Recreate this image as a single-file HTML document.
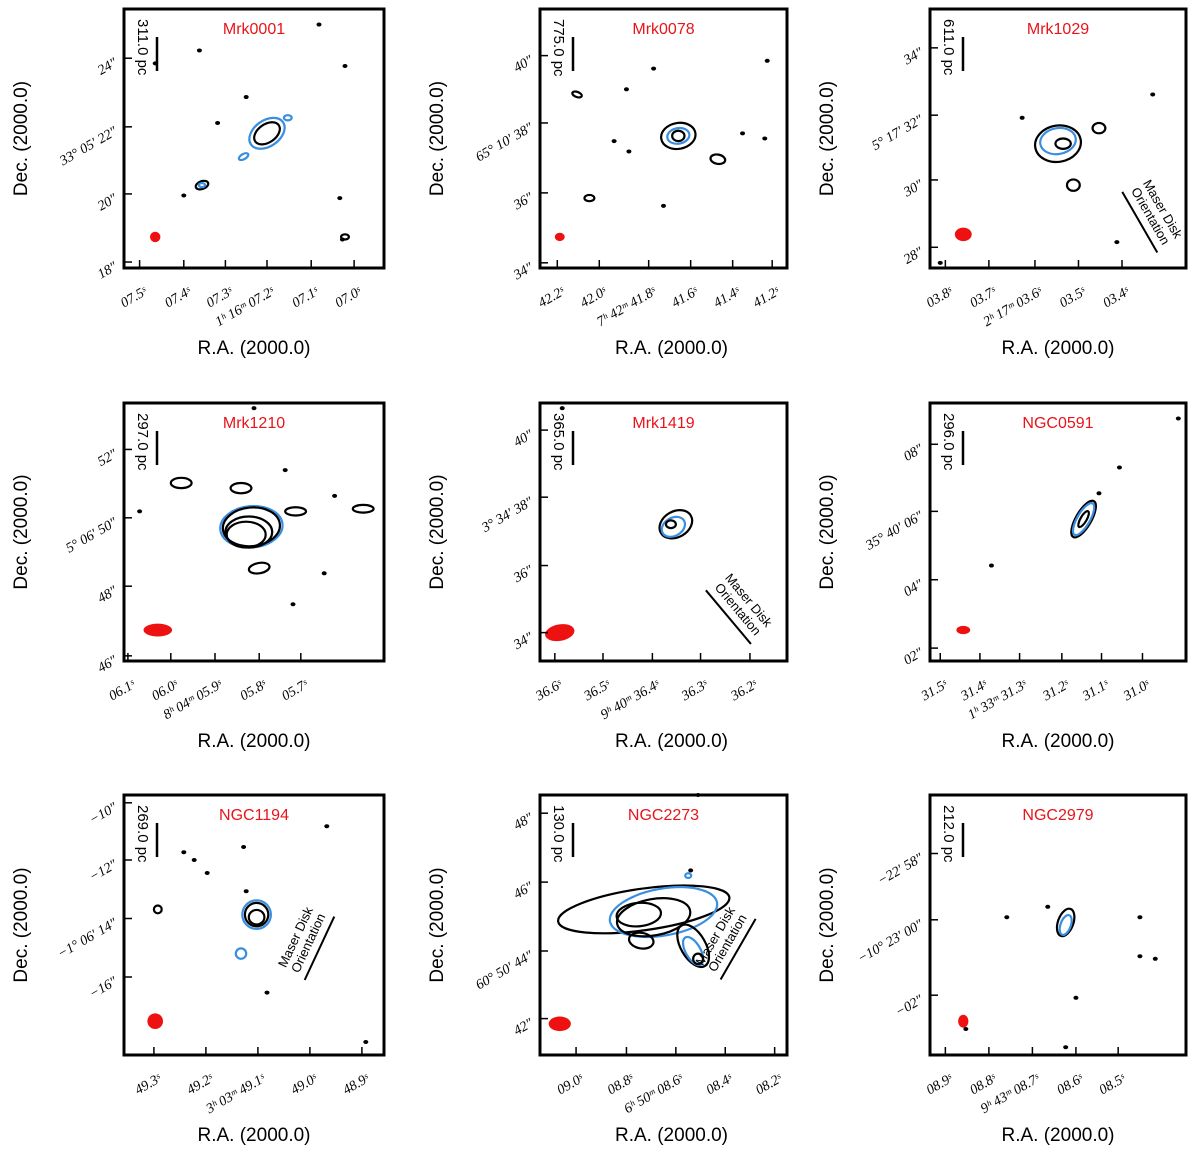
<!DOCTYPE html>
<html><head><meta charset="utf-8"><style>
body{margin:0;background:#fff;width:1200px;height:1150px;overflow:hidden}
svg text{font-family:"Liberation Sans",sans-serif}
.tk{font-family:"Liberation Serif",serif;font-style:italic;font-size:14px}
</style></head><body>
<svg id="fig" width="1200" height="1150" xmlns="http://www.w3.org/2000/svg"></svg>
<script>
const panelNames=["Mrk0001","Mrk0078","Mrk1029","Mrk1210","Mrk1419","NGC0591","NGC1194","NGC2273","NGC2979"];
const scaleLabels=["311.0 pc","775.0 pc","611.0 pc","297.0 pc","365.0 pc","296.0 pc","269.0 pc","130.0 pc","212.0 pc"];
const xTickLabels=[["07.5ˢ","07.4ˢ","07.3ˢ","1ʰ 16ᵐ 07.2ˢ","07.1ˢ","07.0ˢ"],["42.2ˢ","42.0ˢ","7ʰ 42ᵐ 41.8ˢ","41.6ˢ","41.4ˢ","41.2ˢ"],["03.8ˢ","03.7ˢ","2ʰ 17ᵐ 03.6ˢ","03.5ˢ","03.4ˢ"],["06.1ˢ","06.0ˢ","8ʰ 04ᵐ 05.9ˢ","05.8ˢ","05.7ˢ"],["36.6ˢ","36.5ˢ","9ʰ 40ᵐ 36.4ˢ","36.3ˢ","36.2ˢ"],["31.5ˢ","31.4ˢ","1ʰ 33ᵐ 31.3ˢ","31.2ˢ","31.1ˢ","31.0ˢ"],["49.3ˢ","49.2ˢ","3ʰ 03ᵐ 49.1ˢ","49.0ˢ","48.9ˢ"],["09.0ˢ","08.8ˢ","6ʰ 50ᵐ 08.6ˢ","08.4ˢ","08.2ˢ"],["08.9ˢ","08.8ˢ","9ʰ 43ᵐ 08.7ˢ","08.6ˢ","08.5ˢ"]];
const xTickFrac=[[0.06,0.23,0.39,0.55,0.72,0.885],[0.07,0.24,0.44,0.61,0.78,0.94],[0.06,0.23,0.41,0.58,0.75],[0.015,0.18,0.35,0.52,0.68],[0.06,0.255,0.455,0.65,0.85],[0.04,0.195,0.35,0.515,0.67,0.83],[0.115,0.315,0.515,0.715,0.915],[0.146,0.35,0.55,0.75,0.95],[0.06,0.23,0.40,0.57,0.735]];
const yTickLabels=[["24″","33° 05′ 22″","20″","18″"],["40″","65° 10′ 38″","36″","34″"],["34″","5° 17′ 32″","30″","28″"],["52″","5° 06′ 50″","48″","46″"],["40″","3° 34′ 38″","36″","34″"],["08″","35° 40′ 06″","04″","02″"],["−10″","−12″","−1° 06′ 14″","−16″"],["48″","46″","60° 50′ 44″","42″"],["−22′ 58″","−10° 23′ 00″","−02″"]];
const yTickFrac=[[0.19,0.455,0.714,0.977],[0.18,0.44,0.71,0.98],[0.15,0.41,0.66,0.92],[0.18,0.445,0.71,0.98],[0.105,0.365,0.63,0.89],[0.16,0.42,0.685,0.95],[0.03,0.25,0.475,0.7],[0.07,0.335,0.6,0.86],[0.225,0.48,0.77]];
const contours=[
 [[0.55,0.48,0.075,0.05,-35,"u"],[0.55,0.48,0.055,0.035,-35,"b"],[0.63,0.42,0.015,0.01,0,"u"],[0.3,0.68,0.025,0.015,-20,"b"],[0.3,0.68,0.012,0.008,0,"u"],[0.85,0.88,0.015,0.01,0,"b"],[0.46,0.57,0.02,0.01,-30,"u"]],
 [[0.56,0.49,0.07,0.05,-10,"b"],[0.56,0.49,0.045,0.03,-10,"u"],[0.56,0.49,0.025,0.02,0,"b"],[0.72,0.58,0.03,0.018,10,"b"],[0.15,0.33,0.02,0.01,20,"b"],[0.2,0.73,0.02,0.012,0,"b"]],
 [[0.5,0.52,0.09,0.07,-10,"b"],[0.5,0.51,0.07,0.05,-10,"u"],[0.52,0.52,0.03,0.02,0,"b"],[0.56,0.68,0.025,0.022,0,"b"],[0.66,0.46,0.025,0.02,0,"b"]],
 [[0.49,0.48,0.12,0.08,-5,"u"],[0.49,0.48,0.11,0.075,-5,"b"],[0.48,0.5,0.09,0.06,0,"b"],[0.47,0.51,0.075,0.05,0,"b"],[0.45,0.33,0.04,0.02,0,"b"],[0.22,0.31,0.04,0.02,0,"b"],[0.52,0.64,0.04,0.02,-10,"b"],[0.66,0.42,0.04,0.016,0,"b"],[0.92,0.41,0.04,0.015,0,"b"]],
 [[0.55,0.47,0.07,0.05,-30,"b"],[0.54,0.48,0.05,0.035,-30,"u"],[0.53,0.47,0.02,0.015,0,"b"]],
 [[0.6,0.45,0.03,0.08,30,"b"],[0.6,0.45,0.025,0.07,30,"u"],[0.6,0.45,0.012,0.035,30,"b"]],
 [[0.51,0.46,0.055,0.055,0,"u"],[0.51,0.46,0.045,0.045,0,"b"],[0.51,0.47,0.03,0.028,0,"b"],[0.45,0.61,0.02,0.02,0,"u"],[0.13,0.44,0.015,0.015,0,"b"]],
 [[0.42,0.44,0.35,0.08,-8,"b"],[0.5,0.45,0.22,0.09,-10,"u"],[0.46,0.47,0.15,0.07,-10,"b"],[0.4,0.46,0.09,0.045,-5,"b"],[0.62,0.58,0.05,0.09,-30,"b"],[0.62,0.6,0.03,0.06,-30,"u"],[0.64,0.63,0.02,0.02,0,"b"],[0.41,0.56,0.05,0.03,10,"b"],[0.6,0.31,0.012,0.009,0,"u"]],
 [[0.53,0.49,0.03,0.055,20,"b"],[0.53,0.5,0.02,0.04,20,"u"]]];
const dots=[
 [[0.83,0.73],[0.85,0.22],[0.23,0.72],[0.12,0.21],[0.29,0.16],[0.75,0.06],[0.84,0.89],[0.36,0.44],[0.47,0.34]],
 [[0.35,0.31],[0.46,0.23],[0.92,0.2],[0.36,0.55],[0.5,0.76],[0.91,0.5],[0.82,0.48],[0.3,0.51]],
 [[0.87,0.33],[0.36,0.42],[0.73,0.9],[0.04,0.98]],
 [[0.62,0.26],[0.5,0.02],[0.77,0.66],[0.06,0.42],[0.81,0.36],[0.65,0.78]],
 [[0.09,0.02]],
 [[0.66,0.35],[0.74,0.25],[0.24,0.63],[0.97,0.06]],
 [[0.23,0.22],[0.27,0.25],[0.46,0.2],[0.78,0.12],[0.32,0.3],[0.47,0.37],[0.93,0.95],[0.55,0.76]],
 [[0.64,0.0],[0.61,0.29]],
 [[0.3,0.47],[0.46,0.43],[0.82,0.47],[0.82,0.62],[0.88,0.63],[0.57,0.78],[0.14,0.9],[0.53,0.97]]];
const beams=[[0.12,0.88,0.02,0.02,0],[0.08,0.88,0.02,0.016,0],[0.13,0.87,0.033,0.026,0],[0.13,0.88,0.055,0.025,0],[0.08,0.89,0.06,0.032,-10],[0.13,0.88,0.027,0.016,0],[0.12,0.87,0.03,0.03,0],[0.08,0.88,0.045,0.028,0],[0.13,0.87,0.02,0.025,0]];
const maser=[null,null,[0.86,0.8],null,[0.8,0.8],null,[0.71,0.57],[0.76,0.57],null];
const maserAng=[0,0,60,0,50,0,-65,-60,0];
const colX=[124,540,930],colW=[260,247,256],rowY=[9,403,795],rowH=[259,258,260];
const NS="http://www.w3.org/2000/svg",svg=document.getElementById("fig");
function mk(t,a,p,txt){const e=document.createElementNS(NS,t);for(const k in a)e.setAttribute(k,a[k]);if(txt!=null)e.textContent=txt;(p||svg).appendChild(e);return e;}
for(let i=0;i<9;i++){
 const X=colX[i%3],Y=rowY[Math.floor(i/3)],W=colW[i%3],H=rowH[Math.floor(i/3)];
 const g=mk("g",{});
 
 
 const sx=f=>X+f*W, sy=f=>Y+f*H;
 contours[i].forEach(c=>{const e=mk("ellipse",{cx:sx(c[0]),cy:sy(c[1]),rx:c[2]*W,ry:c[3]*H,transform:`rotate(${c[4]} ${sx(c[0])} ${sy(c[1])})`,fill:"none",stroke:c[5]=="u"?"#3a8ee0":"#000","stroke-width":2.2},g);
  
  });
 dots[i].forEach(d=>{const e=mk("ellipse",{cx:sx(d[0]),cy:sy(d[1]),rx:2.5,ry:2,fill:"#000"},g);
  
  });
 const b=beams[i];const be=mk("ellipse",{cx:sx(b[0]),cy:sy(b[1]),rx:b[2]*W,ry:b[3]*H,transform:`rotate(${b[4]} ${sx(b[0])} ${sy(b[1])})`,fill:"#ee1111"},g);
 
 
 const r=mk("rect",{x:X,y:Y,width:W,height:H,fill:"none",stroke:"#000","stroke-width":3},g);
 
 
 const t=mk("text",{x:X+W/2,y:Y+25,"text-anchor":"middle","font-size":16,fill:"#e8141a"},g,panelNames[i]);
 
 
 const st=mk("text",{x:0,y:0,"font-size":15,transform:`translate(${X+14},${Y+10}) rotate(90)`},g,scaleLabels[i]);
 
 
 const sl=mk("line",{x1:X+33,y1:Y+28,x2:X+33,y2:Y+62,stroke:"#000","stroke-width":2.5},g);
 
 
 xTickFrac[i].forEach((f,k)=>{const x=sx(f);mk("line",{x1:x,y1:Y+H,x2:x,y2:Y+H-8,stroke:"#000","stroke-width":1.5},g);
  const tl=mk("text",{class:"tk","text-anchor":"end",transform:`translate(${x+8},${Y+H+26}) rotate(-30)`},g,xTickLabels[i][k]);
  
  });
 yTickFrac[i].forEach((f,k)=>{const y=sy(f);mk("line",{x1:X,y1:y,x2:X+8,y2:y,stroke:"#000","stroke-width":1.5},g);
  const tl=mk("text",{class:"tk","text-anchor":"end",transform:`translate(${X-6},${y+7}) rotate(-30)`},g,yTickLabels[i][k]);
  
  });
 const yl=mk("text",{"font-size":19,"text-anchor":"middle",transform:`translate(${X-97},${Y+H/2}) rotate(-90)`},g,"Dec. (2000.0)");
 
 
 const xl=mk("text",{"font-size":19,"text-anchor":"middle",x:X+W/2+(i%3==1?8:0),y:Y+H+86},g,"R.A. (2000.0)");
 
 
 if(maser[i]){const m=maser[i],a=maserAng[i],mx=sx(m[0]),my=sy(m[1]);
  const mg=mk("g",{transform:`translate(${mx},${my}) rotate(${a})`},g);
  
  
  mk("text",{x:0,y:-10,"font-size":13,"text-anchor":"middle"},mg,"Maser Disk");
  mk("text",{x:0,y:4,"font-size":13,"text-anchor":"middle"},mg,"Orientation");
  mk("line",{x1:-35,y1:12,x2:35,y2:12,stroke:"#000","stroke-width":2},mg);}
}
</script></body></html>
